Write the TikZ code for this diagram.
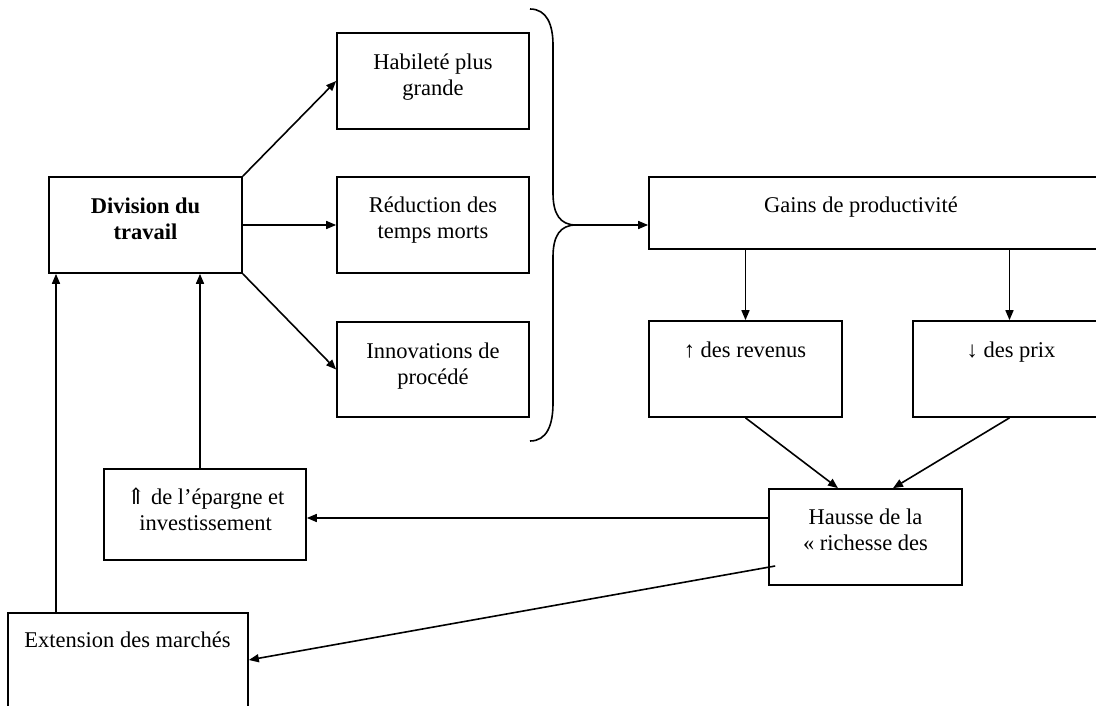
\documentclass[tikz,border=0pt]{standalone}
\usepackage{fontspec}
\setmainfont{Liberation Serif}
\newfontfamily\symfont{DejaVu Serif}
\usetikzlibrary{arrows.meta}
\newcommand\twolines[1]{\vtop{\baselineskip=26pt\halign{\hfil##\hfil\cr#1\crcr}}}
\begin{document}
\begin{tikzpicture}[x=1pt,y=-1pt,
  box/.style={draw, line width=1.7pt, rectangle, inner sep=0pt},
  lbl/.style={anchor=base, inner sep=0pt, font=\fontsize{22.5}{26}\selectfont},
  arr/.style={line width=1.6pt, -{Triangle[length=10pt,width=8pt]}},
  ln/.style={line width=1.6pt}]
\useasboundingbox (0,0) rectangle (1096,705);
\clip (0,0) rectangle (1096,705);
% boxes
\node[box, minimum width=193pt, minimum height=96pt] (div) at (145.5,225) {};
\node[box, minimum width=192pt, minimum height=96pt] (hab) at (433,81) {};
\node[box, minimum width=192pt, minimum height=96pt] (red) at (433,225) {};
\node[box, minimum width=192pt, minimum height=95pt] (inn) at (433,369.5) {};
\node[box, minimum width=457pt, minimum height=72pt] (gains) at (877.5,213) {};
\node[box, minimum width=193pt, minimum height=96pt] (rev) at (745.5,369) {};
\node[box, minimum width=193pt, minimum height=96pt] (prix) at (1009.5,369) {};
\node[box, minimum width=193pt, minimum height=96pt] (haus) at (865.5,537) {};
\node[box, minimum width=202pt, minimum height=91pt] (epar) at (205,514.5) {};
\node[box, minimum width=240pt, minimum height=112pt] (ext) at (128,669) {};
% texts
\node[lbl, font=\fontsize{22.5}{26}\selectfont\bfseries] (tdiv) at (145.5,213) {\twolines{Division du\cr travail}};
\node[lbl] (thab) at (433,69) {\twolines{Habileté plus\cr grande}};
\node[lbl] (tred) at (433,212.5) {\twolines{Réduction des\cr temps morts}};
\node[lbl] (tinn) at (433,358) {\twolines{Innovations de\cr procédé}};
\node[lbl] (tgains) at (861,212) {Gains de productivité};
\node[lbl] (trev) at (745,357) {↑ des revenus};
\node[lbl] (tprix) at (1011,357) {↓ des prix};
\node[lbl] (thaus) at (865.5,524) {\twolines{Hausse de la\cr «~richesse des}};
\node[lbl] (tepar) at (205.5,504) {\twolines{{\symfont ⇑} de l’épargne et\cr investissement}};
\node[lbl] (text) at (127.5,647) {Extension des marchés};
% brace
\coordinate (tip) at (576,225);
\draw[ln] (530,9) .. controls (547,9) and (553,25) .. (553,45) -- (553,193)
  .. controls (553,214) and (560,225) .. (tip)
  .. controls (560,225) and (553,236) .. (553,257) -- (553,403)
  .. controls (553,425) and (547,441) .. (530,441);
% connectors
\draw[arr] (div.north east) -- (hab.west);
\draw[arr] (div.east) -- (red.west);
\draw[arr] (div.south east) -- (inn.west);
\draw[arr] (tip) -- (gains.west |- tip);
\draw[arr] (rev.north |- gains.south) -- (rev.north);
\draw[arr] (prix.north |- gains.south) -- (prix.north);
\draw[arr] (rev.south) -- ([xshift=-27.5pt]haus.north);
\draw[arr] (prix.south) -- ([xshift=27.5pt]haus.north);
\draw[arr] ([yshift=19pt]haus.west) -- ([yshift=19pt]haus.west -| epar.east);
\draw[arr] ([xshift=-5pt]epar.north) -- ([xshift=-5pt]epar.north |- div.south);
\draw[arr] ([xshift=7pt,yshift=-29pt]haus.west) -- ([yshift=9pt]ext.east);
\draw[arr] ([xshift=-72pt]ext.north) -- ([xshift=-72pt]ext.north |- div.south);
\end{tikzpicture}
\end{document}
